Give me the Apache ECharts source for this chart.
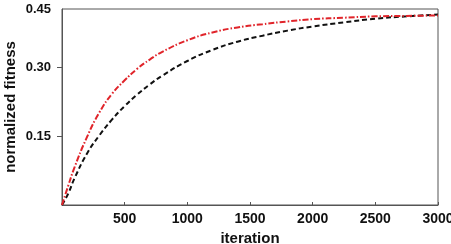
<!DOCTYPE html>
<html>
<head>
<meta charset="utf-8">
<script src="https://cdn.jsdelivr.net/npm/echarts@6/dist/echarts.min.js"></script>
<style>
  html, body { margin: 0; padding: 0; background: #fff; }
  #chart { width: 451px; height: 244px; }
</style>
</head>
<body>
<div id="chart"></div>
<script>
// iteration grid shared by both curves
const iterations = [0, 50, 100, 200, 300, 400, 500, 600, 700, 800, 1000, 1200, 1400, 1600, 1800, 2000, 2250, 2500, 2750, 3000];
// red dash-dot curve
const redValues = [0, 0.042, 0.082, 0.148, 0.202, 0.242, 0.271, 0.296, 0.316, 0.333, 0.358, 0.375, 0.386, 0.393, 0.399, 0.404, 0.407, 0.410, 0.411, 0.412];
// black dashed curve
const blackValues = [0, 0.025, 0.058, 0.112, 0.152, 0.186, 0.215, 0.24, 0.262, 0.281, 0.313, 0.337, 0.355, 0.368, 0.379, 0.388, 0.397, 0.405, 0.410, 0.414];

// y tick labels: the top label sits at the frame edge
const yTickValues = [0.15, 0.30, 0.426];
const yTickLabels = ["0.15", "0.30", "0.45"];

const toPairs = (vals) => iterations.map((t, i) => [t, vals[i]]);

const chart = echarts.init(document.getElementById("chart"));

const option = {
  animation: false,
  grid: {
    left: 62,
    right: 13,
    top: 9,
    bottom: 39,
    outerBoundsMode: "none",
    show: true,
    borderColor: "#555",
    borderWidth: 1
  },
  xAxis: {
    type: "value",
    min: 0,
    max: 3000,
    interval: 500,
    name: "iteration",
    nameLocation: "middle",
    nameGap: 26,
    nameMoveOverlap: false,
    nameTextStyle: { fontFamily: "Liberation Sans", fontWeight: "bold", fontSize: 15, color: "#111" },
    axisLine: { lineStyle: { color: "#555" } },
    axisTick: { inside: true, length: 3, lineStyle: { color: "#555" } },
    axisLabel: {
      showMinLabel: false,
      margin: 7,
      formatter: (v) => String(v),
      fontFamily: "Liberation Sans",
      fontWeight: "bold",
      fontSize: 14,
      color: "#111"
    },
    splitLine: { show: false }
  },
  yAxis: {
    type: "value",
    min: 0,
    max: 0.426,
    name: "normalized fitness",
    nameLocation: "middle",
    nameGap: 44,
    nameMoveOverlap: false,
    nameTextStyle: { fontFamily: "Liberation Sans", fontWeight: "bold", fontSize: 15, color: "#111" },
    axisLine: { show: true, lineStyle: { color: "#555" } },
    axisTick: { show: true, length: 5, customValues: yTickValues.slice(0, 2), lineStyle: { color: "#555" } },
    axisLabel: {
      customValues: yTickValues,
      formatter: (v) => yTickLabels[yTickValues.indexOf(v)] || "",
      margin: 11,
      fontFamily: "Liberation Sans",
      fontWeight: "bold",
      fontSize: 13,
      color: "#111"
    },
    splitLine: { show: false }
  },
  series: [
    {
      name: "black",
      type: "line",
      smooth: true,
      showSymbol: false,
      lineStyle: { color: "#111", width: 2, type: [5, 3] },
      data: toPairs(blackValues)
    },
    {
      name: "red",
      type: "line",
      smooth: true,
      showSymbol: false,
      lineStyle: { color: "#e0242a", width: 2, type: [6, 2, 1.5, 2] },
      data: toPairs(redValues)
    }
  ]
};

chart.setOption(option);
</script>
</body>
</html>
